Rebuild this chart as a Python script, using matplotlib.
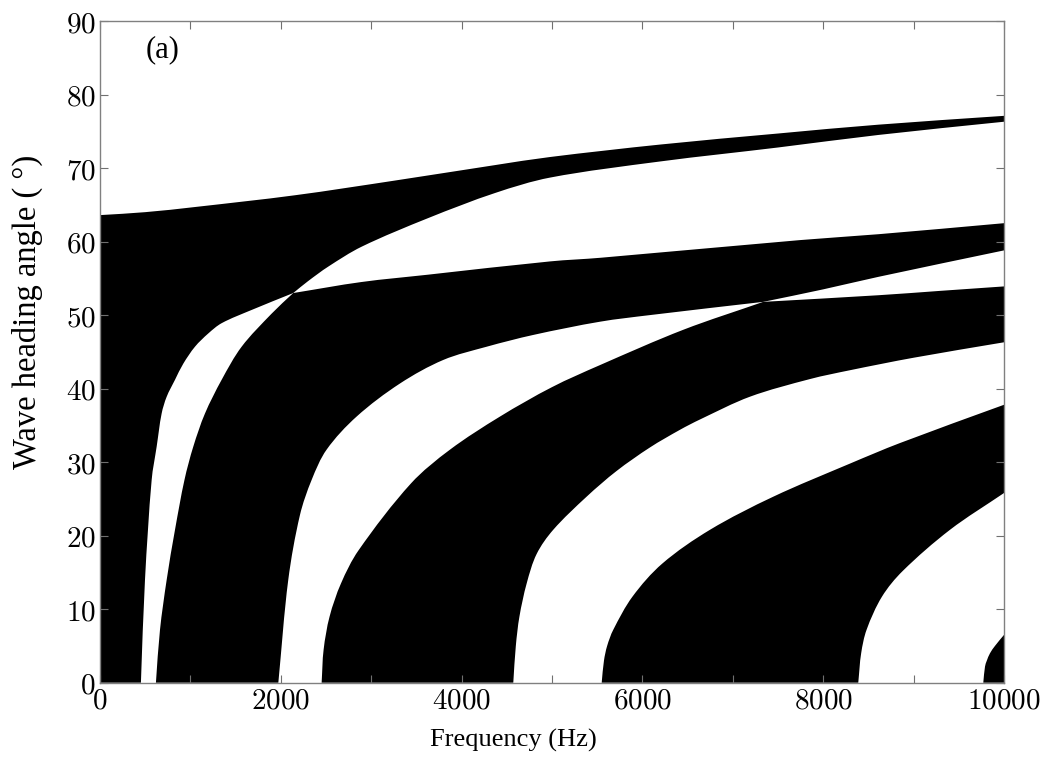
import numpy as np
import matplotlib
matplotlib.use("Agg")
import matplotlib.pyplot as plt
from matplotlib.path import Path
from matplotlib.patches import PathPatch

plt.rcParams['mathtext.fontset'] = 'cm'

# boundary curves of the stop bands as (frequency Hz, angle deg)
top_edge = [(0, 63.6), (500, 64.0), (1051, 64.7), (2157, 66.3), (3263, 68.3), (4369, 70.4),
            (4978, 71.5), (6200, 73.2), (7503, 74.7), (8610, 75.9), (10000, 77.1)]

# pair 1 (cross at about 2138 Hz / 53 deg)
a_pre = [(453, 0), (498, 14), (572, 27.6), (627, 32.1), (682, 36.6), (738, 38.9), (830, 41.2),
         (922, 43.4), (1051, 45.7), (1198, 47.5), (1346, 48.9), (1678, 50.7), (2138, 53.0)]
b_pre = [(619, 0), (664, 7.2), (738, 14), (830, 20.8), (935, 27.6), (1032, 32.1), (1161, 36.6),
         (1346, 41.2), (1567, 45.7), (1899, 50.2), (2138, 53.0)]
a_post = [(2138, 53.0), (2894, 54.5), (3632, 55.5), (4978, 57.3), (5540, 57.8), (7743, 60.2),
          (8610, 61.0), (10000, 62.5)]
b_post = [(2138, 53.0), (2300, 54.6), (2526, 56.6), (2894, 59.3), (3632, 63.2), (4369, 66.6),
          (4978, 68.7), (6200, 70.9), (7503, 72.8), (8610, 74.5), (10000, 76.3)]

# pair 2 (cross at about 7337 Hz / 51.8 deg)
c1_pre = [(1973, 0), (2083, 14), (2212, 22.8), (2342, 27.6), (2507, 31.7), (2839, 36.2),
          (3319, 40.7), (3798, 43.9), (4278, 45.7), (4793, 47.3), (5531, 49.1), (6084, 50.0),
          (7337, 51.8)]
c2_pre = [(2452, 0), (2474, 4.5), (2540, 9.0), (2666, 13.5), (2860, 18.0), (3440, 27.1),
          (3872, 31.7), (4425, 36.2), (5000, 40.2), (5531, 43.2), (6452, 48.0), (7337, 51.8)]
c1_post = [(7337, 51.8), (8610, 52.7), (9300, 53.3), (10000, 53.9)]
c2_post = [(7337, 51.8), (8000, 53.5), (8610, 55.2), (10000, 58.8)]

# pair 3
e_curve = [(4572, 0), (4600, 5), (4640, 9), (4720, 13.5), (4830, 17.5), (5014, 20.8),
           (5383, 25.3), (5715, 28.8), (6084, 32.0), (6416, 34.4), (6637, 35.8), (7190, 38.9),
           (7854, 41.3), (8296, 42.5), (9000, 44.2), (10000, 46.3)]
f_curve = [(5550, 0), (5575, 3.0), (5610, 5.0), (5678, 7.2), (5890, 11.7), (6220, 16.2),
           (6748, 20.8), (7448, 25.3), (8296, 29.8), (8850, 32.6), (10000, 37.8)]

# pair 4
g_curve = [(8388, 0), (8420, 4.0), (8480, 7.2), (8650, 11.7), (8880, 15.2), (9403, 20.8),
           (10000, 25.8)]
h_curve = [(9771, 0), (9790, 2.2), (9810, 3.0), (9845, 4.0), (9900, 5.0), (10000, 6.5)]

# rough pixel scale of the axes, only used to make the curves round
SC = np.array([904 / 10000, 661.7 / 90])


def band_path(*pieces):
    verts, codes = [], []
    for piece in pieces:
        P = np.array(piece, dtype=float)
        if not verts:
            verts.append(P[0]); codes.append(Path.MOVETO)
        elif not np.allclose(verts[-1], P[0]):
            verts.append(P[0]); codes.append(Path.LINETO)
        if len(P) < 2:
            continue
        S = P * SC
        T = np.empty_like(S)
        T[0] = S[1] - S[0]
        T[-1] = S[-1] - S[-2]
        T[1:-1] = S[2:] - S[:-2]
        T /= np.linalg.norm(T, axis=1)[:, None]
        for i in range(len(S) - 1):
            d = np.linalg.norm(S[i + 1] - S[i]) / 3
            verts += [(S[i] + T[i] * d) / SC, (S[i + 1] - T[i + 1] * d) / SC, P[i + 1]]
            codes += [Path.CURVE4] * 3
    verts.append(verts[0]); codes.append(Path.CLOSEPOLY)
    return Path(verts, codes)


bands = [
    band_path([(0, 0)], a_pre, b_post, top_edge[::-1]),
    band_path(b_pre, a_post, c2_post[::-1], c1_pre[::-1]),
    band_path(c2_pre, c1_post, e_curve[::-1]),
    band_path(f_curve, g_curve[::-1]),
    band_path(h_curve, [(10000, 0)]),
]

fig = plt.figure(figsize=(10.49, 7.78), dpi=100)
ax = fig.add_axes([0.0953, 0.1225, 0.8618, 0.8505])

for p in bands:
    ax.add_patch(PathPatch(p, facecolor='k', lw=0))

ax.set_xlim(0, 10000)
ax.set_ylim(0, 90)

xt = np.arange(0, 10001, 1000)
ax.set_xticks(xt)
ax.set_xticklabels([f'${v}$' if v % 2000 == 0 else '' for v in xt])
yt = np.arange(0, 91, 10)
ax.set_yticks(yt)
ax.set_yticklabels([f'${v}$' for v in yt])
ax.tick_params(direction='in', length=6, width=0.8, color='#707070',
               top=True, right=True, labelsize=21, pad=3)
for s in ax.spines.values():
    s.set_color('#808080')
    s.set_linewidth(1.0)

ax.text(0.05, 0.957, '(a)', transform=ax.transAxes, fontsize=22,
        family='Liberation Serif', ha='left', va='center')
fig.text(513 / 1049, 1 - 740 / 778, 'Frequency (Hz)', fontsize=19,
         family='Liberation Serif', ha='center', va='center')
fig.text(27 / 1049, 1 - 312 / 778, 'Wave heading angle ( °)', fontsize=23.5,
         family='Liberation Serif', ha='center', va='center', rotation=90)

fig.savefig('out.png', dpi=100)
